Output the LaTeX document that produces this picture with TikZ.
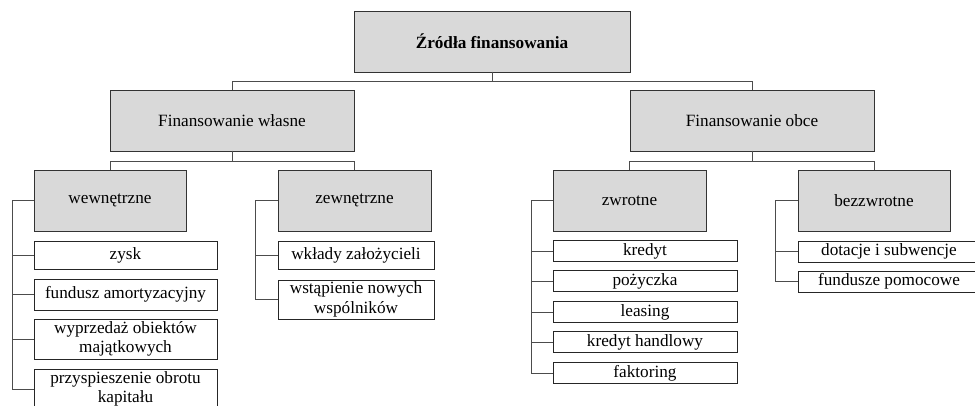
\documentclass[tikz,border=0pt]{standalone}
\usepackage{fontspec}
\setmainfont{Liberation Serif}
\usetikzlibrary{calc}
\begin{document}
\begin{tikzpicture}[x=1pt,y=-1pt,
  every node/.style={inner sep=0pt, outer sep=0pt, align=center,
    font=\fontsize{17.2}{19.5}\selectfont},
  headbox/.style={draw=black!80, line width=0.9pt, fill=black!15, minimum height=61pt},
  leafbox/.style={draw=black!85, line width=0.9pt, fill=white},
  conn/.style={draw=black!70, line width=0.9pt}]
\useasboundingbox (0,0) rectangle (975,406);

% level 1
\node[headbox, minimum width=276pt, font=\fontsize{17.2}{19.5}\selectfont\bfseries] (root) at (492,41.5) {Źródła finansowania};
% level 2
\node[headbox, minimum width=244pt] (fw) at (232,120.5) {Finansowanie własne};
\node[headbox, minimum width=244pt] (fo) at (752,120.5) {Finansowanie obce};
% level 3
\node[headbox, minimum width=152pt] (wew) at (110,200.5) {wewnętrzne};
\node[headbox, minimum width=153pt] (zew) at (354.5,200.5) {zewnętrzne};
\node[headbox, minimum width=153pt] (zwr) at (629.5,200.5) {zwrotne};
\node[headbox, minimum width=152pt] (bez) at (874,200.5) {bezzwrotne};

% leaves: wewnetrzne
\node[leafbox, minimum width=183pt, minimum height=28pt] (w1) at (125.5,255) {zysk};
\node[leafbox, minimum width=183pt, minimum height=31pt] (w2) at (125.5,294.5) {fundusz amortyzacyjny};
\node[leafbox, minimum width=183pt, minimum height=40pt] (w3) at (125.5,339) {wyprzedaż obiektów\\majątkowych};
\node[leafbox, minimum width=183pt, minimum height=40pt] (w4) at (125.5,389) {przyspieszenie obrotu\\kapitału};

% leaves: zewnetrzne
\node[leafbox, minimum width=156pt, minimum height=28pt] (z1) at (356,255) {wkłady założycieli};
\node[leafbox, minimum width=156pt, minimum height=39pt] (z2) at (356,299.5) {wstąpienie nowych\\wspólników};

% leaves: zwrotne
\node[leafbox, minimum width=184pt, minimum height=21.5pt] (r1) at (645,251) {kredyt};
\node[leafbox, minimum width=184pt, minimum height=21.5pt] (r2) at (645,281) {pożyczka};
\node[leafbox, minimum width=184pt, minimum height=21.5pt] (r3) at (645,312) {leasing};
\node[leafbox, minimum width=184pt, minimum height=21.5pt] (r4) at (645,342) {kredyt handlowy};
\node[leafbox, minimum width=184pt, minimum height=21.5pt] (r5) at (645,373) {faktoring};

% leaves: bezzwrotne
\node[leafbox, minimum width=182pt, minimum height=21pt] (b1) at (889,251.5) {dotacje i subwencje};
\node[leafbox, minimum width=182pt, minimum height=21pt] (b2) at (889,281.5) {fundusze pomocowe};

% tree connectors
\draw[conn] (root.south) -- ++(0,9) -| (fw.north);
\draw[conn] (root.south) -- ++(0,9) -| (fo.north);
\draw[conn] (fw.south) -- ++(0,10) -| (wew.north);
\draw[conn] (fw.south) -- ++(0,10) -| (zew.north);
\draw[conn] (fo.south) -- ++(0,10) -| (zwr.north);
\draw[conn] (fo.south) -- ++(0,10) -| (bez.north);

% bus connectors
\foreach \leaf in {w1,w2,w3,w4}
  \draw[conn] (wew.west) -- ++(-22,0) |- (\leaf.west);
\foreach \leaf in {z1,z2}
  \draw[conn] (zew.west) -- ++(-23,0) |- (\leaf.west);
\foreach \leaf in {r1,r2,r3,r4,r5}
  \draw[conn] (zwr.west) -- ++(-22,0) |- (\leaf.west);
\foreach \leaf in {b1,b2}
  \draw[conn] (bez.west) -- ++(-23,0) |- (\leaf.west);
\end{tikzpicture}
\end{document}
